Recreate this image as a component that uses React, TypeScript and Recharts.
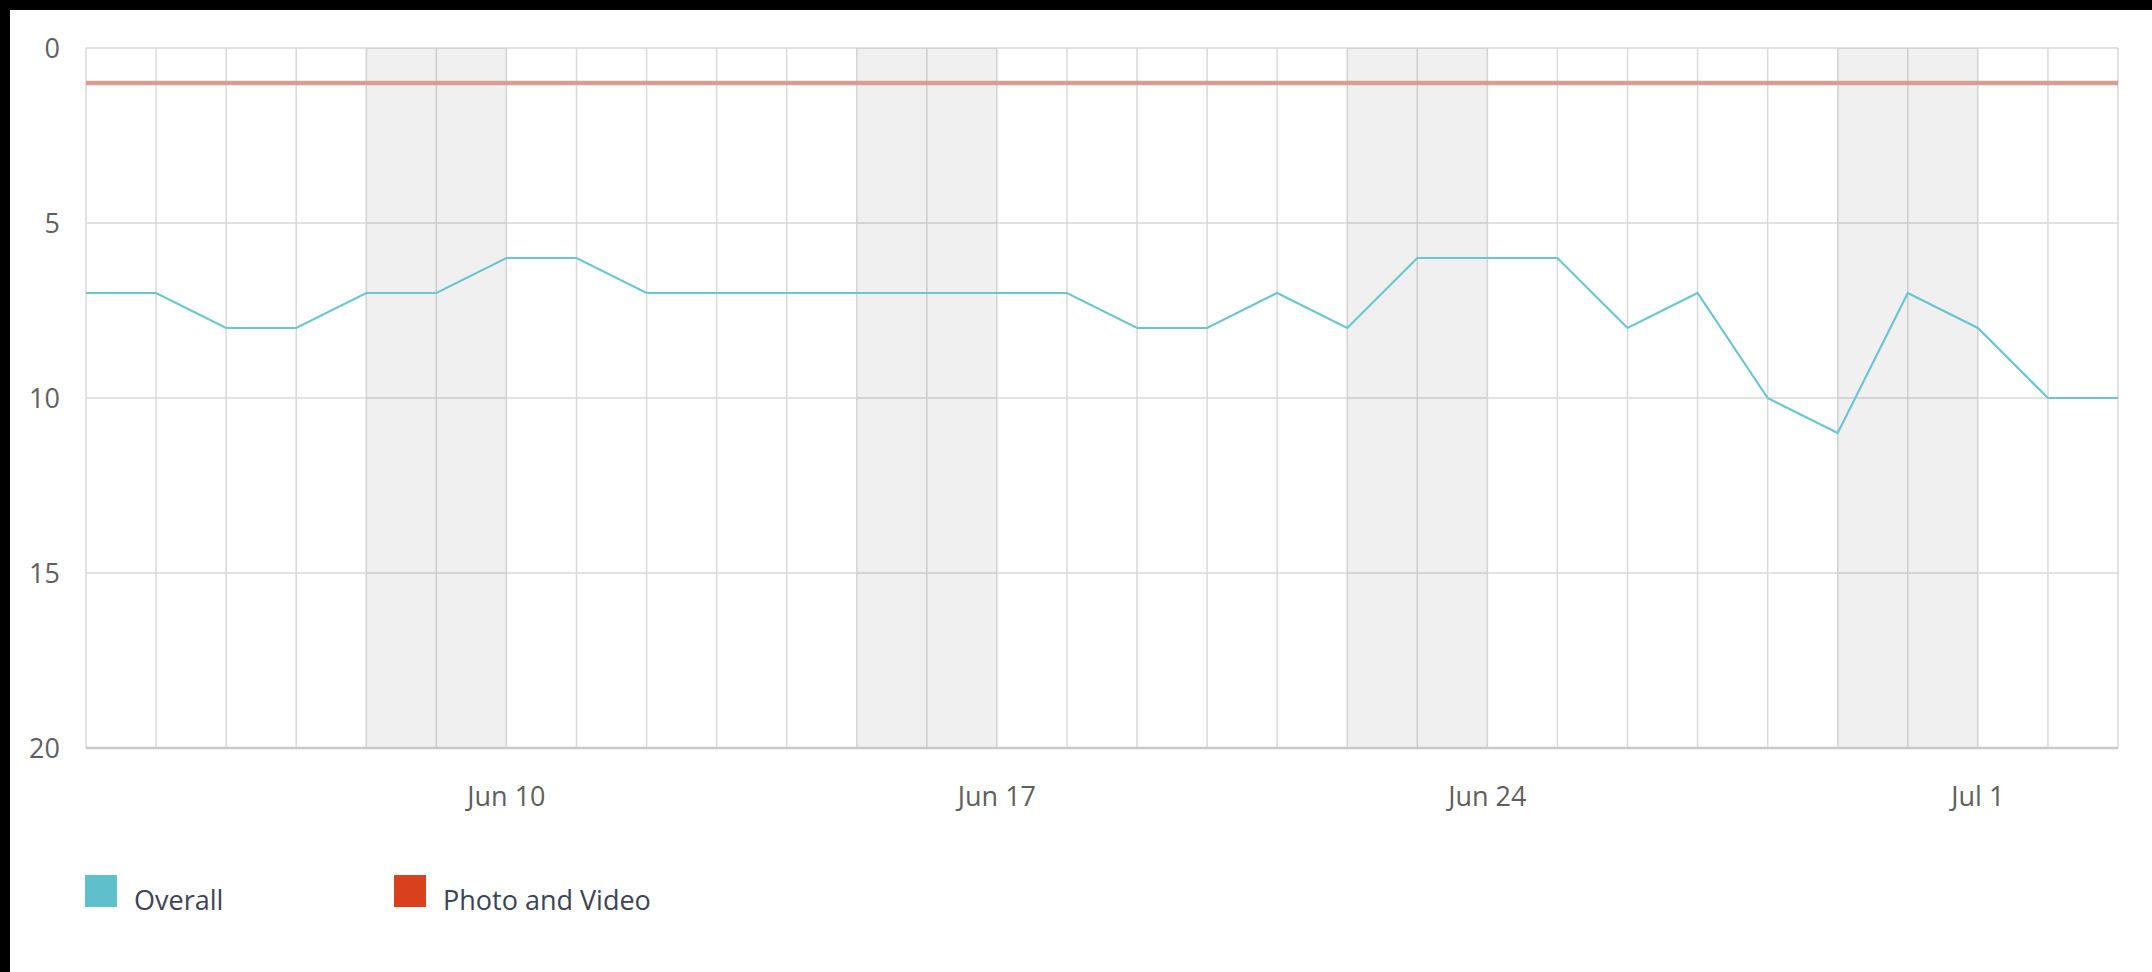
import { CartesianGrid, Line, LineChart, ReferenceArea, XAxis, YAxis } from "recharts";

// one category per day, Jun 4 .. Jul 3
const days = [
  "Jun 4", "Jun 5", "Jun 6", "Jun 7", "Jun 8", "Jun 9", "Jun 10",
  "Jun 11", "Jun 12", "Jun 13", "Jun 14", "Jun 15", "Jun 16", "Jun 17",
  "Jun 18", "Jun 19", "Jun 20", "Jun 21", "Jun 22", "Jun 23", "Jun 24",
  "Jun 25", "Jun 26", "Jun 27", "Jun 28", "Jun 29", "Jun 30", "Jul 1",
  "Jul 2", "Jul 3",
];

// rank values (lower is better, axis reversed)
const overall = [
  7, 7, 8, 8, 7, 7, 6, 6, 7, 7, 7, 7, 7, 7, 7,
  8, 8, 7, 8, 6, 6, 6, 8, 7, 10, 11, 7, 8, 10, 10,
];
const photoAndVideo = [
  1, 1, 1, 1, 1, 1, 1, 1, 1, 1, 1, 1, 1, 1, 1,
  1, 1, 1, 1, 1, 1, 1, 1, 1, 1, 1, 1, 1, 1, 1,
];

const labelledDays = ["Jun 10", "Jun 17", "Jun 24", "Jul 1"];
const yTicks = [0, 5, 10, 15, 20];

// weekend bands: [start, end]
const weekendStarts = ["Jun 8", "Jun 15", "Jun 22", "Jun 29"];
const weekendEnds = ["Jun 10", "Jun 17", "Jun 24", "Jul 1"];

const series = [
  { key: "overall", name: "Overall", color: "#5fc0cc" },
  { key: "photo", name: "Photo and Video", color: "#d9411e" },
];

const data = days.map((day, i) => ({
  day,
  overall: overall[i],
  photo: photoAndVideo[i],
}));

const font = "'Open Sans', sans-serif";

export default function App() {
  return (
    <div style={{ position: "fixed", left: 0, top: 0, width: 2152, height: 972, background: "#000" }}>
      <div style={{ position: "absolute", left: 10, top: 10, width: 2142, height: 962, background: "#fff" }}>
        <LineChart
          width={2142}
          height={962}
          data={data}
          margin={{ top: 38, right: 34, left: 0, bottom: 164 }}
        >
          {weekendStarts.map((s, i) => (
            <ReferenceArea
              key={s}
              x1={s}
              x2={weekendEnds[i]}
              fill="#000"
              fillOpacity={0.06}
              stroke="none"
              ifOverflow="visible"
            />
          ))}
          <CartesianGrid stroke="#d9d9d9" strokeWidth={1.5} />
          <XAxis
            dataKey="day"
            interval={0}
            height={60}
            tickLine={false}
            tickSize={0}
            tickMargin={39}
            axisLine={{ stroke: "#c9c9c9", strokeWidth: 2.5 }}
            tick={{ fill: "#5f5f5f", fontSize: 27, fontFamily: font }}
            tickFormatter={(v: string) => (labelledDays.includes(v) ? v : "")}
          />
          <YAxis
            width={76}
            reversed
            domain={[0, 20]}
            ticks={yTicks}
            axisLine={false}
            tickLine={false}
            tickSize={0}
            tickMargin={26}
            tick={{ fill: "#5f5f5f", fontSize: 27, fontFamily: font }}
          />
          <Line
            dataKey="photo"
            name="Photo and Video"
            stroke="#d89e94"
            strokeWidth={4.5}
            dot={false}
            isAnimationActive={false}
          />
          <Line
            dataKey="overall"
            name="Overall"
            stroke="#6cc6d0"
            strokeWidth={2.2}
            dot={false}
            isAnimationActive={false}
          />
        </LineChart>
        <div style={{ position: "absolute", left: 75, top: 865, display: "flex", fontFamily: font }}>
          {series.map((s) => (
            <div key={s.key} style={{ display: "flex", alignItems: "flex-end", width: 309 }}>
              <div style={{ width: 32, height: 32, background: s.color }} />
              <span style={{ marginLeft: 17, fontSize: 27, lineHeight: "27px", color: "#3c4357", position: "relative", top: 6 }}>
                {s.name}
              </span>
            </div>
          ))}
        </div>
      </div>
    </div>
  );
}
